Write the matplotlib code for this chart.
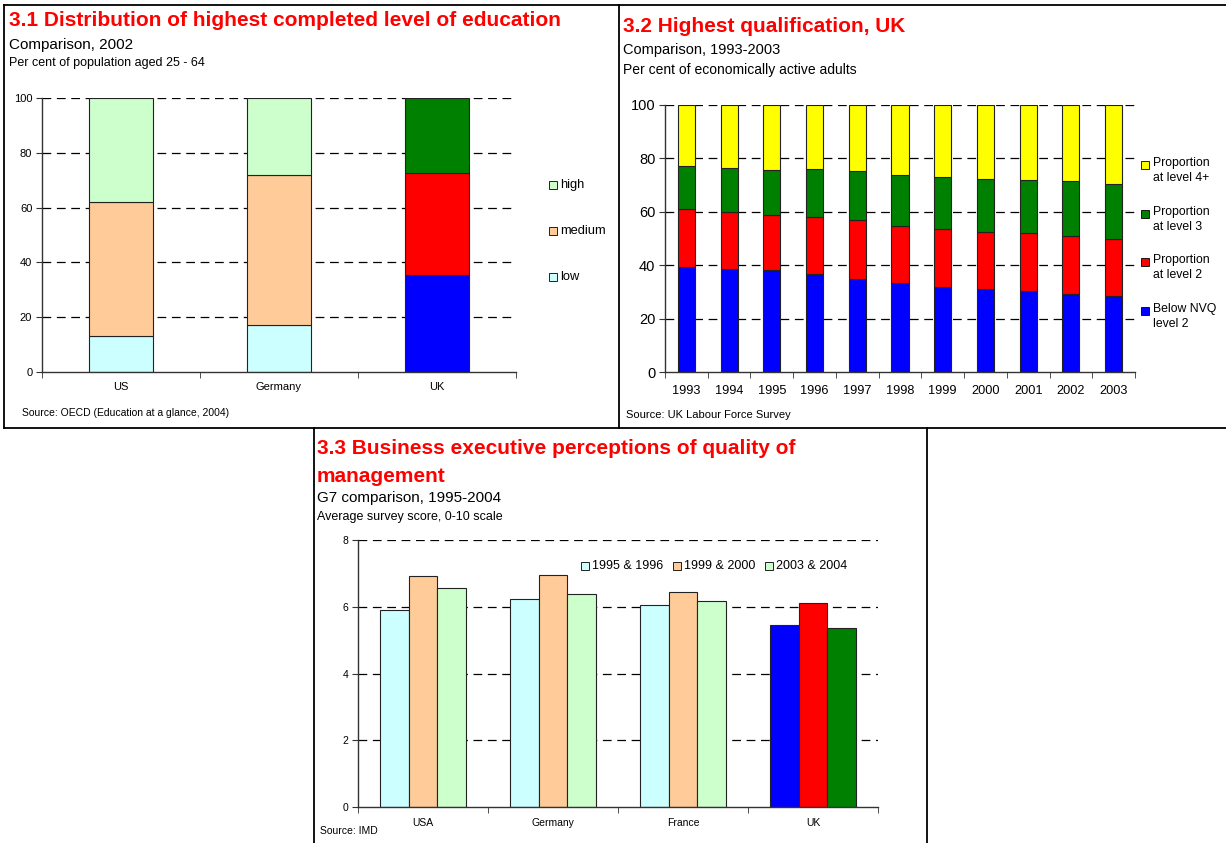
import numpy as np
import matplotlib
matplotlib.use("Agg")
import matplotlib.pyplot as plt
from matplotlib.lines import Line2D
from matplotlib.patches import Rectangle

plt.rcParams["font.family"] = ["Liberation Sans", "DejaVu Sans"]

# ---- 3.1 highest completed level of education, 2002 (% of pop. 25-64) ----
edu_countries = ["US", "Germany", "UK"]
edu_low = [13.0, 17.0, 35.5]
edu_medium = [49.0, 55.0, 37.2]
edu_high = [38.0, 28.0, 27.3]

# ---- 3.2 highest qualification, UK (% of economically active adults) ----
qual_years = ["1993", "1994", "1995", "1996", "1997", "1998",
              "1999", "2000", "2001", "2002", "2003"]
qual_below_nvq2 = [39.3, 38.5, 38.1, 36.8, 35.0, 33.3, 32.0, 31.0, 30.5, 29.4, 28.6]
qual_level2 = [21.6, 21.3, 20.8, 21.3, 21.9, 21.3, 21.4, 21.3, 21.4, 21.7, 21.4]
qual_level3 = [16.4, 16.7, 16.9, 18.0, 18.5, 19.3, 19.6, 20.0, 20.0, 20.5, 20.4]
qual_level4 = [22.7, 23.5, 24.2, 23.9, 24.6, 26.1, 27.0, 27.7, 28.1, 28.4, 29.6]

# ---- 3.3 quality of management survey score (0-10) ----
mgmt_countries = ["USA", "Germany", "France", "UK"]
mgmt_periods = ["1995 & 1996", "1999 & 2000", "2003 & 2004"]
mgmt_9596 = [5.90, 6.24, 6.05, 5.45]
mgmt_9900 = [6.92, 6.95, 6.43, 6.10]
mgmt_0304 = [6.55, 6.37, 6.18, 5.36]

PALE = ["#CCFFFF", "#FFCC99", "#CCFFCC"]   # low / medium / high
STRONG = ["#0000FF", "#FF0000", "#008000"]
RED_TITLE = "#FF0000"
TITLE_SIZE = 15

W, H = 1226, 843
fig = plt.figure(figsize=(W / 100, H / 100), dpi=100)


def fx(x):
    return x / W


def fy(y):
    return 1 - y / H


def add_ax(left, top, right, bottom):
    return fig.add_axes([fx(left), fy(bottom), (right - left) / W, (bottom - top) / H])


def ftext(x, y, s, **kw):
    kw.setdefault("va", "center")
    kw.setdefault("ha", "left")
    return fig.text(fx(x), fy(y), s, **kw)


def frame(x0, y0, x1, y1):
    fig.add_artist(Line2D([fx(x0), fx(x1)], [fy(y0), fy(y1)],
                          transform=fig.transFigure, color="black", lw=1.3))


def key(x, y, color, label, size):
    fig.patches.append(Rectangle((fx(x - 4), fy(y + 4)), 8 / W, 8 / H,
                                 transform=fig.transFigure, facecolor=color,
                                 edgecolor="black", lw=0.6))
    ftext(x + 7, y, label, fontsize=size, va="center")


def style(ax, ymax, ystep, ncat, ysize, xsize, xpad):
    ax.set_xlim(-0.5, ncat - 0.5)
    ax.set_ylim(0, ymax)
    ticks = np.arange(0, ymax + ystep / 2, ystep)
    ax.set_yticks(ticks)
    for t in ticks[1:]:
        ax.axhline(t, color="black", lw=0.9, ls=(0, (7, 4.5)), zorder=0)
    for side in ("top", "right"):
        ax.spines[side].set_visible(False)
    for side in ("left", "bottom"):
        ax.spines[side].set_color("#333333")
        ax.spines[side].set_linewidth(1.0)
    ax.set_xticks(range(ncat))
    ax.set_xticks(np.arange(-0.5, ncat, 1.0), minor=True)
    ax.tick_params(axis="x", which="major", length=0, pad=xpad, labelsize=xsize)
    ax.tick_params(axis="x", which="minor", length=4, direction="out", color="#333333")
    ax.tick_params(axis="y", length=4, direction="out", labelsize=ysize, pad=3,
                   color="#333333")
    ax.patch.set_visible(False)


# panel borders
frame(4, 5, 619, 5)
frame(4, 5, 4, 428)
frame(4, 428, 1226, 428)
frame(619, 5, 619, 428)
frame(619, 5, 1226, 5)
frame(314, 428, 314, 843)
frame(927, 428, 927, 843)

# ========== 3.1 ==========
ftext(9, 21, "3.1 Distribution of highest completed level of education",
      fontsize=TITLE_SIZE, fontweight="bold", color=RED_TITLE)
ftext(9, 45, "Comparison, 2002", fontsize=11)
ftext(9, 63, "Per cent of population aged 25 - 64", fontsize=9)
ftext(22, 413, "Source: OECD (Education at a glance, 2004)", fontsize=7.5)

ax1 = add_ax(42, 98, 516, 372)
x1 = np.arange(len(edu_countries))
bottom = np.zeros(len(x1))
for i, seg in enumerate([edu_low, edu_medium, edu_high]):
    colors = [PALE[i]] * (len(x1) - 1) + [STRONG[i]]
    ax1.bar(x1, seg, 0.4, bottom=bottom, color=colors, edgecolor="#222222",
            lw=0.8, zorder=2)
    bottom += np.array(seg)
style(ax1, 100, 20, len(x1), 8, 8, 7)
ax1.set_xticklabels(edu_countries)
for label, y, c in zip(["high", "medium", "low"], [185, 231, 277], PALE[::-1]):
    key(553, y, c, label, 9.3)

# ========== 3.2 ==========
ftext(623, 26, "3.2 Highest qualification, UK",
      fontsize=TITLE_SIZE, fontweight="bold", color=RED_TITLE)
ftext(623, 50, "Comparison, 1993-2003", fontsize=10.5)
ftext(623, 70, "Per cent of economically active adults", fontsize=10)
ftext(626, 415, "Source: UK Labour Force Survey", fontsize=8)

ax2 = add_ax(665, 105, 1135, 372)
x2 = np.arange(len(qual_years))
bottom = np.zeros(len(x2))
qual_colors = ["#0000FF", "#FF0000", "#008000", "#FFFF00"]
for seg, c in zip([qual_below_nvq2, qual_level2, qual_level3, qual_level4], qual_colors):
    ax2.bar(x2, seg, 0.4, bottom=bottom, color=c, edgecolor="#222222", lw=0.8, zorder=2)
    bottom += np.array(seg)
style(ax2, 100, 20, len(x2), 10.5, 9.2, 9)
ax2.set_xticklabels(qual_years)
qual_labels = ["Proportion\nat level 4+", "Proportion\nat level 3",
               "Proportion\nat level 2", "Below NVQ\nlevel 2"]
for label, y, c in zip(qual_labels, [157, 206, 254, 303], qual_colors[::-1]):
    key(1145, y + 8, c, "", 8.8)
    ftext(1153, y, label, fontsize=8.8, va="top", linespacing=1.3)

# ========== 3.3 ==========
ftext(317, 449, "3.3 Business executive perceptions of quality of",
      fontsize=TITLE_SIZE, fontweight="bold", color=RED_TITLE)
ftext(317, 477, "management", fontsize=TITLE_SIZE, fontweight="bold", color=RED_TITLE)
ftext(317, 498, "G7 comparison, 1995-2004", fontsize=11)
ftext(317, 517, "Average survey score, 0-10 scale", fontsize=9)
ftext(320, 831, "Source: IMD", fontsize=7.5)

ax3 = add_ax(358, 540, 878, 807)
x3 = np.arange(len(mgmt_countries))
bw = 0.22
for i, vals in enumerate([mgmt_9596, mgmt_9900, mgmt_0304]):
    colors = [PALE[i]] * (len(x3) - 1) + [STRONG[i]]
    ax3.bar(x3 + (i - 1) * bw, vals, bw, color=colors, edgecolor="#222222",
            lw=0.8, zorder=2)
style(ax3, 8, 2, len(x3), 7.5, 7.5, 8)
ax3.set_xticklabels(mgmt_countries)
for label, x, c in zip(mgmt_periods, [585, 677, 769], PALE):
    key(x, 566, c, label, 9)

fig.savefig("out.png", dpi=100)
